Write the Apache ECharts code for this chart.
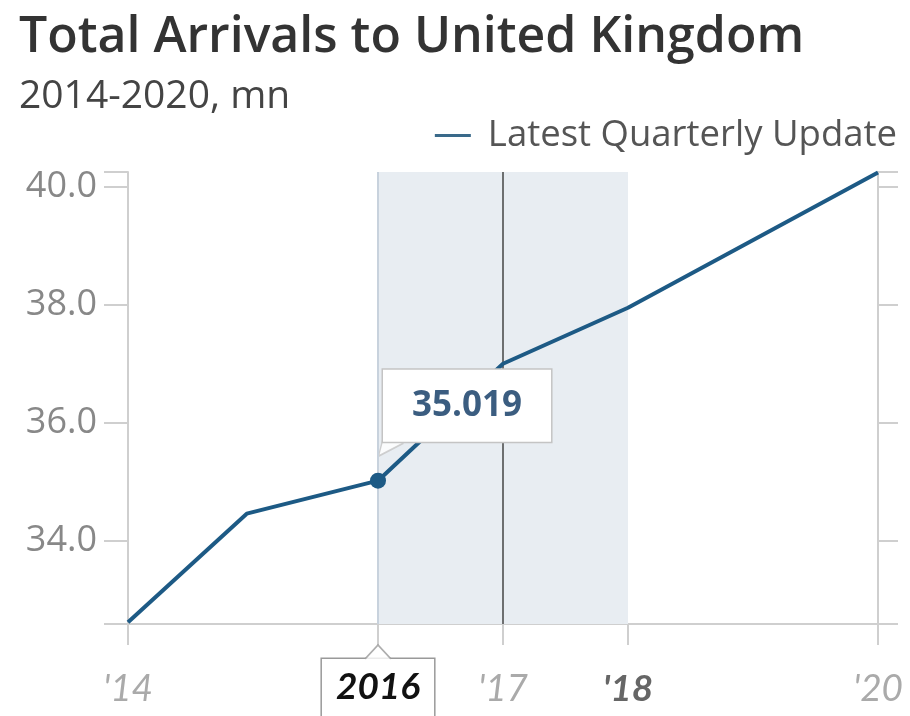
<!DOCTYPE html>
<html>
<head>
<meta charset="utf-8">
<script src="https://cdn.jsdelivr.net/npm/echarts@6/dist/echarts.min.js"></script>
<style>
html,body{margin:0;padding:0;background:#fff;}
#c{width:910px;height:716px;}
</style>
</head>
<body>
<div id="c"></div>
<script>
// ---- data ----
const years = [2014, 2014.95, 2016, 2017, 2018, 2020];
const arrivals = [32.62, 34.46, 35.019, 37.0, 37.95, 40.24];
const xTickValues = [2014, 2016, 2017, 2018, 2020];
const yTickLabels = [34, 36, 38, 40];
const yMin = 32.59, yMax = 40.25;
const highlightYear = 2016;
const shadeRange = [2016, 2018];
const currentYear = 2017;
const seriesName = 'Latest Quarterly Update';

const lineColor = '#1d5a85';
const font = '"Open Sans", Lato, sans-serif';
const xfont = 'Lato, "Open Sans", sans-serif';
const gray = '#cfcfcf';

const seriesData = years.map((x, i) => {
  const item = { value: [x, arrivals[i]] };
  if (x === highlightYear) {
    item.symbolSize = 16;
    item.label = {
      show: true,
      formatter: p => p.value[1].toFixed(3),
      position: [13, -103],
      color: '#3b5d80',
      fontFamily: font,
      fontWeight: 'bold',
      fontSize: 35,
      lineHeight: 36,
      backgroundColor: '#fff',
      borderColor: '#c4c4c4',
      borderWidth: 1.5,
      padding: [18, 29, 18, 29]
    };
  } else {
    item.symbolSize = 0;
  }
  return item;
});

const chart = echarts.init(document.getElementById('c'));
chart.setOption({
  animation: false,
  backgroundColor: '#fff',
  title: {
    text: 'Total Arrivals to United Kingdom',
    subtext: '2014-2020, mn',
    left: 14,
    top: 8,
    itemGap: 14,
    textStyle: { fontFamily: font, fontSize: 50, fontWeight: 600, color: '#333' },
    subtextStyle: { fontFamily: font, fontSize: 39, color: '#444' }
  },
  legend: {
    right: 8,
    top: 112,
    icon: 'rect',
    itemWidth: 36,
    itemHeight: 3,
    itemGap: 14,
    textStyle: { fontFamily: font, fontSize: 36.5, color: '#555', padding: [0, 0, 0, 12] },
    data: [{ name: seriesName, itemStyle: { color: '#3a6a8a' } }]
  },
  grid: { left: 128, right: 32, top: 172, bottom: 92, containLabel: false, outerBoundsMode: 'none' },
  xAxis: {
    type: 'value',
    min: 2014,
    max: 2020,
    axisLine: { lineStyle: { color: gray, width: 2 } },
    splitLine: { show: false },
    axisTick: { customValues: xTickValues, length: 21, lineStyle: { color: gray, width: 2 } },
    axisLabel: {
      customValues: xTickValues,
      margin: 35,
      formatter: v => {
        if (v === highlightYear) return '{sel|' + v + '}';
        if (v === shadeRange[1]) return "{b|'" + String(v).slice(2) + '}';
        return "{n|'" + String(v).slice(2) + '}';
      },
      rich: {
        n: { fontFamily: xfont, fontStyle: 'italic', fontSize: 37, color: '#aaa', padding: [12, 0, 0, 0] },
        b: { fontFamily: xfont, fontStyle: 'italic', fontWeight: 'bold', fontSize: 37, color: '#666', padding: [12, 0, 0, 0] },
        sel: { fontFamily: xfont, fontStyle: 'italic', fontWeight: 'bold', fontSize: 37, color: '#111',
               backgroundColor: '#fff', borderColor: '#999', borderWidth: 1.5, padding: [10, 14, 20, 14] }
      }
    }
  },
  yAxis: [
    {
      type: 'value',
      position: 'left',
      min: yMin,
      max: yMax,
      splitLine: { show: false },
      axisLine: { show: true, lineStyle: { color: gray, width: 2 } },
      axisTick: { show: true, customValues: [yMin].concat(yTickLabels, [yMax]), length: 24, lineStyle: { color: gray, width: 2 } },
      axisLabel: {
        customValues: yTickLabels,
        formatter: v => v.toFixed(1),
        margin: 31,
        fontFamily: font,
        fontSize: 36,
        color: '#888'
      }
    },
    {
      type: 'value',
      position: 'right',
      min: yMin,
      max: yMax,
      splitLine: { show: false },
      axisLine: { show: true, lineStyle: { color: gray, width: 2 } },
      axisTick: { show: true, customValues: [yMin].concat(yTickLabels, [yMax]), length: 20, lineStyle: { color: gray, width: 2 } },
      axisLabel: { show: false }
    }
  ],
  series: [
    {
      name: seriesName,
      type: 'line',
      data: seriesData,
      symbol: 'circle',
      color: lineColor,
      lineStyle: { color: lineColor, width: 4 },
      itemStyle: { color: lineColor },
      z: 5,
      markArea: {
        silent: true,
        itemStyle: { color: '#e8edf2' },
        data: [[{ xAxis: shadeRange[0] }, { xAxis: shadeRange[1] }]]
      },
      markLine: {
        silent: true,
        symbol: 'none',
        label: { show: false },
        data: [
          { xAxis: highlightYear, lineStyle: { color: '#c8d2dd', width: 2, type: 'solid' } },
          { xAxis: currentYear, lineStyle: { color: '#444', width: 1.5, type: 'solid' } }
        ]
      }
    },
    {
      // callout pointers (value box on line, year box on axis)
      type: 'scatter',
      silent: true,
      z: 4,
      data: [
        {
          value: [highlightYear, arrivals[years.indexOf(highlightYear)]],
          symbol: 'path://M9,0 L0,35 L25,22',
          symbolSize: [25, 35],
          symbolKeepAspect: false,
          symbolOffset: [13, -42],
          itemStyle: { color: '#fff', borderColor: '#c4c4c4', borderWidth: 1.5 }
        },
        {
          value: [highlightYear, yMin],
          symbol: 'path://M0,14 L12,0 L24,14',
          symbolSize: [26, 14],
          symbolKeepAspect: false,
          symbolOffset: [0, 28],
          itemStyle: { color: '#fff', borderColor: '#999', borderWidth: 1.5 }
        }
      ],
      clip: false
    }
  ]
});
</script>
</body>
</html>
